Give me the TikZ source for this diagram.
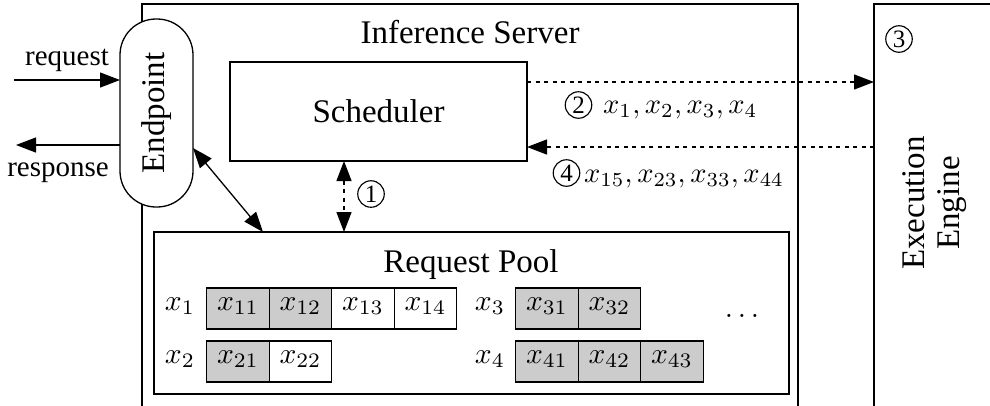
\documentclass[tikz,border=0pt]{standalone}
\usepackage[no-math]{fontspec}
\setmainfont{Liberation Serif}
\usetikzlibrary{arrows.meta}

% math is set at the normal size and enlarged, so that subscripts keep their 7pt design
\newcommand\mbig[1]{\scalebox{2.95}{$#1$}}
\newcommand\mlab[1]{\scalebox{2.85}{$#1$}}

\tikzset{
  lw/.style={line width=1.3pt},
  box/.style={draw, line width=1.3pt, fill=white, inner sep=0pt, outer sep=0pt},
  big/.style={font=\fontsize{33}{36}\selectfont},
  small/.style={font=\fontsize{29}{32}\selectfont},
  lab/.style={inner sep=0pt, text height=13pt, text depth=10pt},
  lab2/.style={inner sep=0pt},
  cell/.style={lab, draw, line width=1.1pt, minimum width=62.5pt, minimum height=41pt, outer sep=0pt},
  done/.style={cell, fill=gray!40},
  cnum/.style={circle, draw, line width=1.15pt, minimum size=26.5pt, inner sep=0pt, font=\fontsize{25}{25}\selectfont},
  tipr/.style={-{Triangle[length=20pt,width=15pt]}},
  tipb/.style={{Triangle[length=20pt,width=15pt]}-{Triangle[length=20pt,width=15pt]}},
  dots/.style={lw, dash pattern=on 4pt off 4.5pt}
}

\begin{document}
\begin{tikzpicture}[x=1pt, y=-1pt]
  \useasboundingbox (0,0) rectangle (990,405);
  \clip (0,0) rectangle (990,405);

  % server frame and execution engine frame (both run past the lower edge)
  \node[box, anchor=north west, minimum width=656pt, minimum height=450pt] (srv) at (142,4) {};
  \node[big, anchor=base] (srvt) at (470,43) {Inference Server};
  \node[box, anchor=north west, minimum width=200pt, minimum height=450pt] (exe) at (874,4) {};
  \node[font=\fontsize{33}{35}\selectfont, rotate=90, align=center] (exet) at (935,203) {Execution\\Engine};
  \node[cnum] (c3) at (899,39) {3};

  % scheduler and endpoint
  \node[box, big, minimum width=297pt, minimum height=99pt] (sch) at (378.5,111.5) {Scheduler};
  \node[box, big, rounded corners=36pt, minimum width=73pt, minimum height=188pt] (ep) at (156.5,113) {\rotatebox{90}{Endpoint}};

  % request pool
  \node[box, minimum width=635pt, minimum height=162pt] (pool) at (471.5,313) {};
  \node[big, anchor=base] (poolt) at (471,272) {Request Pool};

  \node[lab] (r1) at (180,308.5) {\mbig{x_1}};
  \node[done] (x11) at (238,308.5) {\mbig{x_{11}}};
  \node[done] (x12) at (300.5,308.5) {\mbig{x_{12}}};
  \node[cell] (x13) at (363,308.5) {\mbig{x_{13}}};
  \node[cell] (x14) at (425.5,308.5) {\mbig{x_{14}}};

  \node[lab] (r3) at (490,308.5) {\mbig{x_3}};
  \node[done] (x31) at (547,308.5) {\mbig{x_{31}}};
  \node[done] (x32) at (609.5,308.5) {\mbig{x_{32}}};
  \node[lab2] (more) at (742,316) {\mbig{\ldots}};

  \node[lab] (r2) at (180,361.5) {\mbig{x_2}};
  \node[done] (x21) at (238,361.5) {\mbig{x_{21}}};
  \node[cell] (x22) at (300.5,361.5) {\mbig{x_{22}}};

  \node[lab] (r4) at (490,361.5) {\mbig{x_4}};
  \node[done] (x41) at (547,361.5) {\mbig{x_{41}}};
  \node[done] (x42) at (609.5,361.5) {\mbig{x_{42}}};
  \node[done] (x43) at (672,361.5) {\mbig{x_{43}}};

  % client side
  \coordinate (reqin) at (14,80);
  \draw[lw, tipr] (reqin) -- (reqin -| ep.west);
  \node[small, anchor=base] (reqt) at (67,65) {request};
  \coordinate (resout) at (16,145);
  \draw[lw, tipr] (resout -| ep.west) -- (resout);
  \node[small, anchor=base] (rest) at (58,176) {response};

  % endpoint <-> pool
  \draw[lw, tipb] ([yshift=-35pt]ep.east) -- ([xshift=109pt]pool.north west);

  % scheduler <-> pool
  \coordinate (a1) at (344,0);
  \draw[dots, tipb] (a1 |- sch.south) -- (a1 |- pool.north);
  \node[cnum] (c1) at (371,194) {1};

  % scheduler <-> execution engine
  \coordinate (a2) at ([yshift=-20pt]sch.north east);
  \draw[dots, tipr] (a2) -- (a2 -| exe.west);
  \node[cnum] (c2) at (578.5,105) {2};
  \node[lab2, anchor=base west] (l2) at (603,113) {\mlab{x_1, x_2, x_3, x_4}};

  \coordinate (a4) at ([yshift=14pt]sch.south east);
  \draw[dots, tipr] (a4 -| exe.west) -- (a4);
  \node[cnum] (c4) at (566.5,173) {4};
  \node[lab2, anchor=base west] (l4) at (584,182) {\mlab{x_{15}, x_{23}, x_{33}, x_{44}}};
\end{tikzpicture}
\end{document}
